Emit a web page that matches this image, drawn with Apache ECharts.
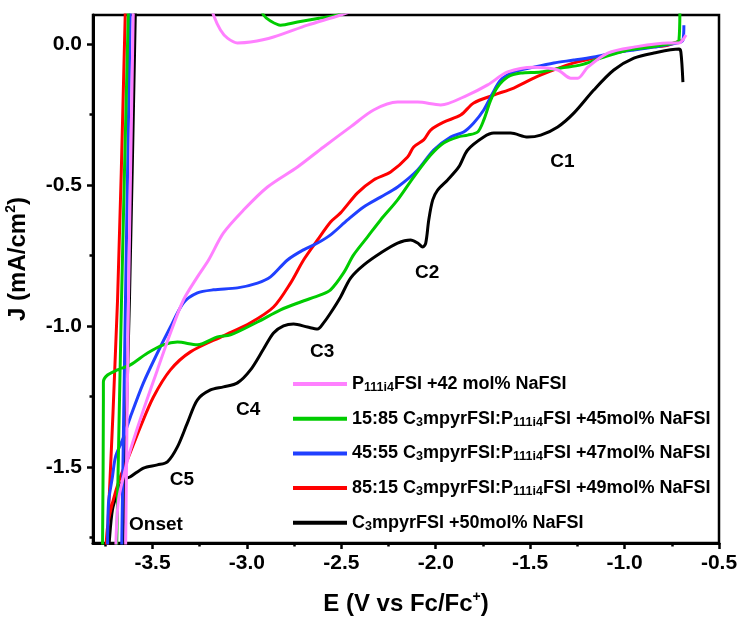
<!DOCTYPE html>
<html><head><meta charset="utf-8">
<script src="https://cdn.jsdelivr.net/npm/echarts@6/dist/echarts.min.js"></script>
<style>html,body{margin:0;padding:0;background:#fff}#c{width:742px;height:625px}</style>
</head><body><div id="c"></div>
<script>
// ---------- data ----------
const seriesNames = [
  'P111i4FSI +42 mol% NaFSI',
  '15:85 C3mpyrFSI:P111i4FSI +45mol% NaFSI',
  '45:55 C3mpyrFSI:P111i4FSI +47mol% NaFSI',
  '85:15 C3mpyrFSI:P111i4FSI +49mol% NaFSI',
  'C3mpyrFSI +50mol% NaFSI'
];
const seriesColors = ['#FF80FF', '#00CC00', '#2040FF', '#FF0000', '#000000'];
const G = ['-', '-']; // break in the trace

const pinkData = [[-0.675,0.032],[-0.712,0.004],[-0.771,0.004],[-0.951,-0.011],[-1.089,-0.032],[-1.195,-0.082],[-1.248,-0.121],[-1.285,-0.121],[-1.354,-0.092],[-1.481,-0.082],[-1.619,-0.099],[-1.725,-0.145],[-1.831,-0.181],[-1.974,-0.216],[-2.096,-0.206],[-2.202,-0.206],[-2.329,-0.234],[-2.451,-0.294],[-2.594,-0.365],[-2.732,-0.436],[-2.891,-0.507],[-3.018,-0.589],[-3.124,-0.670],[-3.203,-0.766],[-3.262,-0.826],[-3.336,-0.908],[-3.405,-1.025],[-3.474,-1.156],[-3.548,-1.298],[-3.617,-1.440],[-3.654,-1.535],[-3.680,-1.617],[-3.691,-1.723],[-3.696,-1.830],G,[-3.643,-1.830],[-3.627,-0.908],[-3.601,0.140],G,[-3.19,0.14],[-3.177,0.103],[-3.140,0.050],[-3.103,0.021],[-3.050,0.004],[-2.981,0.007],[-2.859,0.025],[-2.679,0.067],[-2.504,0.103],[-2.35,0.14]];

const greenData = [[-0.707,0.140],[-0.712,0.014],[-0.739,0.004],[-0.861,-0.011],[-0.983,-0.021],[-1.126,-0.050],[-1.232,-0.074],[-1.338,-0.085],[-1.444,-0.099],[-1.550,-0.103],[-1.619,-0.117],[-1.672,-0.152],[-1.709,-0.199],[-1.746,-0.270],[-1.778,-0.312],[-1.831,-0.323],[-1.884,-0.330],[-1.958,-0.351],[-2.027,-0.394],[-2.117,-0.472],[-2.202,-0.553],[-2.292,-0.624],[-2.361,-0.684],[-2.435,-0.748],[-2.488,-0.812],[-2.557,-0.872],[-2.610,-0.890],[-2.716,-0.915],[-2.822,-0.943],[-2.944,-0.986],[-3.087,-1.032],[-3.156,-1.039],[-3.262,-1.067],[-3.368,-1.057],[-3.442,-1.067],[-3.526,-1.096],[-3.617,-1.138],[-3.685,-1.156],[-3.738,-1.174],[-3.760,-1.199],[-3.760,-1.262],[-3.765,-1.830],G,[-3.691,-1.830],[-3.664,-0.908],[-3.627,0.140],G,[-2.93,0.14],[-2.912,0.103],[-2.875,0.082],[-2.822,0.067],[-2.732,0.078],[-2.610,0.092],[-2.520,0.103],[-2.40,0.14]];

const blueData = [[-0.686,0.067],[-0.691,0.014],[-0.718,0.004],[-0.845,-0.011],[-0.951,-0.021],[-1.057,-0.032],[-1.163,-0.046],[-1.269,-0.057],[-1.375,-0.067],[-1.481,-0.082],[-1.587,-0.099],[-1.656,-0.128],[-1.698,-0.174],[-1.746,-0.234],[-1.799,-0.280],[-1.852,-0.312],[-1.921,-0.330],[-2.011,-0.376],[-2.096,-0.447],[-2.202,-0.507],[-2.292,-0.543],[-2.382,-0.578],[-2.467,-0.624],[-2.557,-0.677],[-2.626,-0.706],[-2.700,-0.730],[-2.785,-0.766],[-2.875,-0.826],[-2.944,-0.848],[-3.050,-0.865],[-3.177,-0.872],[-3.262,-0.883],[-3.336,-0.918],[-3.405,-1.004],[-3.474,-1.096],[-3.548,-1.202],[-3.617,-1.323],[-3.659,-1.404],[-3.696,-1.465],[-3.712,-1.535],[-3.733,-1.628],[-3.738,-1.830],G,[-3.664,-1.830],[-3.643,-0.908],[-3.617,0.140]];

const redData = [[-0.702,0.014],[-0.771,-0.004],[-0.914,-0.014],[-1.057,-0.032],[-1.163,-0.050],[-1.269,-0.067],[-1.375,-0.092],[-1.481,-0.121],[-1.587,-0.156],[-1.693,-0.181],[-1.799,-0.209],[-1.868,-0.252],[-1.958,-0.277],[-2.027,-0.305],[-2.064,-0.340],[-2.117,-0.365],[-2.149,-0.401],[-2.239,-0.454],[-2.329,-0.482],[-2.414,-0.528],[-2.504,-0.599],[-2.557,-0.631],[-2.626,-0.695],[-2.700,-0.766],[-2.769,-0.848],[-2.859,-0.933],[-2.981,-0.989],[-3.124,-1.035],[-3.299,-1.092],[-3.405,-1.156],[-3.495,-1.252],[-3.564,-1.358],[-3.627,-1.465],[-3.670,-1.535],[-3.712,-1.628],[-3.738,-1.713],[-3.749,-1.830],G,[-3.744,-1.830],[-3.685,-0.908],[-3.643,0.140]];

const blackData = [[-0.691,-0.135],[-0.702,-0.028],[-0.712,-0.018],[-0.845,-0.032],[-0.951,-0.050],[-1.057,-0.092],[-1.163,-0.163],[-1.269,-0.245],[-1.354,-0.294],[-1.444,-0.323],[-1.513,-0.330],[-1.603,-0.316],[-1.693,-0.316],[-1.746,-0.330],[-1.831,-0.376],[-1.878,-0.436],[-1.937,-0.482],[-1.990,-0.518],[-2.016,-0.553],[-2.037,-0.624],[-2.053,-0.706],[-2.069,-0.720],[-2.096,-0.706],[-2.133,-0.695],[-2.202,-0.706],[-2.292,-0.741],[-2.382,-0.784],[-2.451,-0.830],[-2.504,-0.897],[-2.557,-0.954],[-2.594,-0.989],[-2.626,-1.011],[-2.679,-1.004],[-2.753,-0.993],[-2.806,-1.000],[-2.859,-1.025],[-2.912,-1.082],[-2.981,-1.156],[-3.050,-1.202],[-3.124,-1.216],[-3.193,-1.227],[-3.262,-1.262],[-3.315,-1.344],[-3.368,-1.429],[-3.421,-1.482],[-3.474,-1.493],[-3.548,-1.504],[-3.617,-1.535],[-3.654,-1.546],[-3.685,-1.592],[-3.712,-1.652],[-3.728,-1.759],[-3.733,-1.830],G,[-3.659,-1.830],[-3.622,-0.908],[-3.590,0.140]];

const xTicks = [-3.5, -3.0, -2.5, -2.0, -1.5, -1.0, -0.5];
const xMinorTicks = [-3.75, -3.25, -2.75, -2.25, -1.75, -1.25, -0.75];
const yTicks = [0.0, -0.5, -1.0, -1.5];
const yMinorTicks = [-0.25, -0.75, -1.25, -1.75];
const xRange = [-3.815, -0.5];
const yRange = [-1.77, 0.103];

const noteLabels = ['C1', 'C2', 'C3', 'C4', 'C5', 'Onset'];
const notePositions = [[-1.327,-0.418],[-2.043,-0.812],[-2.599,-1.092],[-2.991,-1.298],[-3.341,-1.546],[-3.479,-1.706]];

// ---------- chart ----------
const FONT = '"Liberation Sans", Arial, sans-serif';
const dataBySeries = [pinkData, greenData, blueData, redData, blackData];

function richName(n) {
  const parts = n.replace(/P111i4/g, 'P§111i4§').replace(/C3mpyr/g, 'C§3§mpyr').split('§');
  return parts.map((p, i) => p === '' ? '' : (i % 2 ? '{s|' + p + '}' : '{b|' + p + '}')).join('');
}

const drawOrder = [4, 3, 2, 1, 0]; // black under, pink on top
const series = drawOrder.map(i => ({
  type: 'line', name: seriesNames[i], data: dataBySeries[i],
  showSymbol: false, symbol: 'none', smooth: 0.3, connectNulls: false, clip: true,
  lineStyle: { color: seriesColors[i], width: 3 }, itemStyle: { color: seriesColors[i] },
  emphasis: { disabled: true }, silent: true
}));
series.push({
  type: 'scatter', name: 'notes', silent: true, symbolSize: 1, z: 10,
  itemStyle: { opacity: 0 },
  data: notePositions.map((p, i) => [p[0], p[1], noteLabels[i]]),
  label: { show: true, position: [0, 0], align: 'center', verticalAlign: 'middle', formatter: p => p.value[2],
           fontSize: 19, fontWeight: 'bold', color: '#000', opacity: 1, textBorderWidth: 0, fontFamily: FONT }
});

const tickLabelStyle = { fontSize: 21, fontWeight: 'bold', color: '#000', fontFamily: FONT };

const option = {
  animation: false,
  backgroundColor: '#fff',
  grid: { left: 93, top: 15, right: 23, bottom: 82, show: true, borderColor: '#000', borderWidth: 2.5, containLabel: false, outerBoundsMode: 'none' },
  xAxis: [
    { type: 'value', min: xRange[0], max: xRange[1], position: 'bottom',
      axisLine: { onZero: false, lineStyle: { color: '#000', width: 3 } },
      axisTick: { customValues: xTicks, length: 6, lineStyle: { color: '#000', width: 2.5 } },
      axisLabel: Object.assign({ customValues: xTicks, formatter: v => v.toFixed(1), margin: 10 }, tickLabelStyle),
      splitLine: { show: false },
      name: '{a|E (V vs Fc/Fc}{sup|+}{a|)}', nameLocation: 'middle', nameGap: 47,
      nameTextStyle: { rich: {
        a: { fontSize: 24, fontWeight: 'bold', color: '#000', fontFamily: FONT, lineHeight: 28 },
        sup: { fontSize: 14, fontWeight: 'bold', color: '#000', fontFamily: FONT, lineHeight: 12, verticalAlign: 'top' } } } },
    { type: 'value', min: xRange[0], max: xRange[1], position: 'bottom',
      axisLine: { show: false, onZero: false },
      axisTick: { customValues: xMinorTicks, length: 3.5, lineStyle: { color: '#000', width: 2.5 } },
      axisLabel: { show: false }, splitLine: { show: false } }
  ],
  yAxis: [
    { type: 'value', min: yRange[0], max: yRange[1], position: 'left',
      axisLine: { show: true, onZero: false, lineStyle: { color: '#000', width: 3 } },
      axisTick: { show: true, customValues: yTicks, length: 6, lineStyle: { color: '#000', width: 2.5 } },
      axisLabel: Object.assign({ customValues: yTicks, formatter: v => v.toFixed(1), margin: 11 }, tickLabelStyle),
      splitLine: { show: false },
      name: '{a|J (mA/cm}{sup|2}{a|)}', nameLocation: 'middle', nameGap: 61, nameRotate: 90,
      nameTextStyle: { padding: [0, 0, 0, 40], rich: {
        a: { fontSize: 24, fontWeight: 'bold', color: '#000', fontFamily: FONT, lineHeight: 28 },
        sup: { fontSize: 14, fontWeight: 'bold', color: '#000', fontFamily: FONT, lineHeight: 12, verticalAlign: 'top' } } } },
    { type: 'value', min: yRange[0], max: yRange[1], position: 'left',
      axisLine: { show: false, onZero: false },
      axisTick: { show: true, customValues: yMinorTicks, length: 3.5, lineStyle: { color: '#000', width: 2.5 } },
      axisLabel: { show: false }, splitLine: { show: false } }
  ],
  legend: {
    data: seriesNames, orient: 'vertical', left: 293, top: 375, padding: 0,
    itemWidth: 54, itemHeight: 4, itemGap: 15.7, icon: 'rect', selectedMode: false,
    formatter: n => richName(n),
    textStyle: { color: '#000', fontFamily: FONT, fontWeight: 'bold', fontSize: 18,
      rich: {
        b: { fontSize: 18, fontWeight: 'bold', color: '#000', fontFamily: FONT, lineHeight: 20 },
        s: { fontSize: 12.5, fontWeight: 'bold', color: '#000', fontFamily: FONT, lineHeight: 8, verticalAlign: 'bottom' }
      } }
  },
  series: series
};

const chart = echarts.init(document.getElementById('c'), null, { renderer: 'canvas' });
chart.setOption(option);
</script>
</body></html>
